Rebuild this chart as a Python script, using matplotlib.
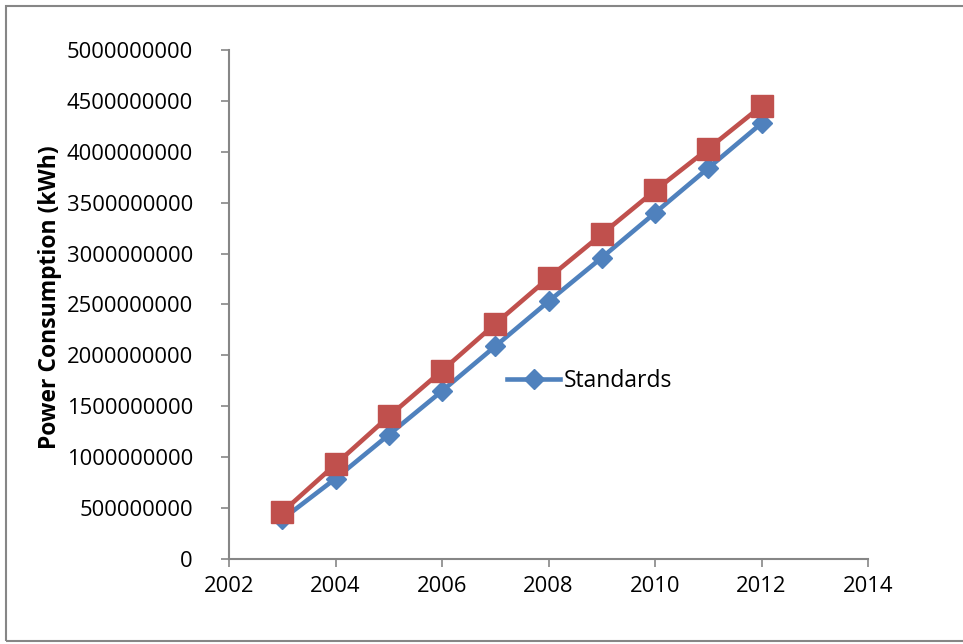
import matplotlib
matplotlib.use("Agg")
import matplotlib.pyplot as plt
from matplotlib.patches import Rectangle

# --- Annual consumption, kWh
years = [2003, 2004, 2005, 2006, 2007, 2008, 2009, 2010, 2011, 2012]
standards = [0.39e9, 0.79e9, 1.22e9, 1.65e9, 2.09e9, 2.53e9, 2.96e9, 3.40e9, 3.84e9, 4.28e9]
baseline = [0.46e9, 0.93e9, 1.40e9, 1.85e9, 2.31e9, 2.76e9, 3.19e9, 3.62e9, 4.03e9, 4.45e9]

x_ticks = [2002, 2004, 2006, 2008, 2010, 2012, 2014]
y_ticks = [0, 500000000, 1000000000, 1500000000, 2000000000, 2500000000,
           3000000000, 3500000000, 4000000000, 4500000000, 5000000000]

BLUE = "#4F81BD"
RED = "#C0504D"
AXIS_GREY = "#868686"

plt.rcParams["font.family"] = ["Open Sans", "DejaVu Sans"]

fig = plt.figure(figsize=(9.63, 6.44), dpi=100)
ax = fig.add_axes([0.2378, 0.132, 0.6636, 0.7904])

# --- Series (red drawn last so its squares sit on top)
ax.plot(years, standards, color=BLUE, lw=3.3, marker="D", ms=10.5,
        label="Standards", zorder=3)
ax.plot(years, baseline, color=RED, lw=3.3, marker="s", ms=15.5,
        label="_nolegend_", zorder=4)

# --- Axes styling
ax.set_xlim(2002, 2014)
ax.set_ylim(0, 5e9)
ax.set_xticks(x_ticks)
ax.set_yticks(y_ticks)
ax.set_xticklabels([str(v) for v in x_ticks])
ax.set_yticklabels([str(v) for v in y_ticks])
ax.tick_params(axis="both", direction="out", length=6, width=1.2,
               color=AXIS_GREY, labelsize=15.8, labelcolor="black")
ax.tick_params(axis="y", pad=20)
ax.tick_params(axis="x", pad=6)
for side in ("top", "right"):
    ax.spines[side].set_visible(False)
for side in ("left", "bottom"):
    ax.spines[side].set_color(AXIS_GREY)
    ax.spines[side].set_linewidth(1.5)

ax.set_ylabel("Power Consumption (kWh)", fontsize=16.5, fontweight="bold")
ax.yaxis.set_label_coords(-0.262, 0.515)

# --- Legend
ax.legend(loc="center left", bbox_to_anchor=(0.515, 0.408),
          bbox_transform=fig.transFigure, frameon=False, fontsize=16.5,
          handlelength=2.3, handletextpad=0.15, borderpad=0)

# --- Chart area border
fig.patches.append(Rectangle((6 / 963, 3 / 644), 1.0, 1 - 9 / 644,
                             transform=fig.transFigure, fill=False,
                             edgecolor=AXIS_GREY, lw=1.5, clip_on=False))

fig.savefig("out.png", dpi=100)
